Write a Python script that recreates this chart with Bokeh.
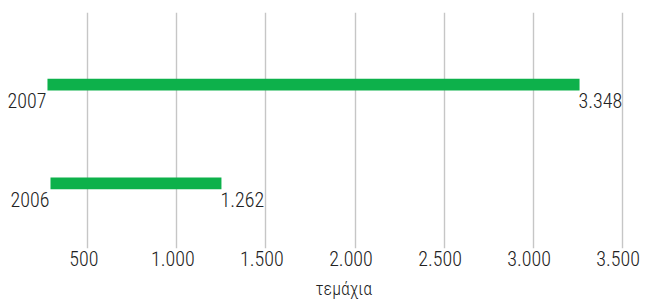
from bokeh.plotting import figure
from bokeh.models import (ColumnDataSource, Range1d, LinearAxis, FixedTicker, Title)
from bokeh.core.properties import value
from bokeh.embed import file_html
from bokeh.resources import INLINE

# ---- data ----
years = [2006, 2007]
units = [1262, 3348]               # printed values (τεμάχια)
unit_labels = ["1.262", "3.348"]
bar_left = [290, 273]              # where each bar begins on the scale
bar_right = [1250, 3261]           # where each bar ends on the scale
tick_values = [500, 1000, 1500, 2000, 2500, 3000, 3500]
tick_labels = ["500", "1.000", "1.500", "2.000", "2.500", "3.000", "3.500"]
axis_title = "τεμάχια"

FONT = ("'Roboto Condensed Light', 'Noto Sans Condensed Light', "
        "'Noto Sans ExtraCondensed', 'Noto Sans Condensed', 'Roboto Condensed', "
        "'Liberation Sans Narrow', 'DejaVu Sans Condensed', sans-serif")
TXT = "#222222"
GREEN = "#0db14b"

W, H = 646, 306
X0, X1 = 9.2, 3637.0

src = ColumnDataSource(dict(
    year=years, left=bar_left, right=bar_right,
    year_lab=[str(y) for y in years], val_lab=unit_labels,
))

p = figure(width=W, height=H, output_backend="svg", toolbar_location=None,
           x_range=Range1d(X0, X1), y_range=Range1d(2005.34, 2007.73),
           x_axis_location=None, y_axis_location=None,
           min_border_left=0, min_border_right=0, min_border_top=12,
           min_border_bottom=55)
p.outline_line_color = None
p.background_fill_color = "white"
p.border_fill_color = "white"

# grid
p.xgrid.ticker = FixedTicker(ticks=tick_values)
p.xgrid.grid_line_color = "#c6c6c6"
p.xgrid.grid_line_width = 1.4
p.ygrid.grid_line_color = None

# tick labels axis (labels sit slightly left of the gridlines)
p.extra_x_ranges = {"lab": Range1d(X0 + 22.5, X1 + 22.5)}
ax = LinearAxis(x_range_name="lab", ticker=FixedTicker(ticks=tick_values),
                major_label_overrides={t: l for t, l in zip(tick_values, tick_labels)})
ax.axis_line_color = None
ax.major_tick_line_color = None
ax.minor_tick_line_color = None
ax.major_tick_out = 0
ax.major_tick_in = 0
ax.major_label_standoff = 2
ax.major_label_text_font = FONT
ax.major_label_text_font_size = "20px"
ax.major_label_text_color = TXT
p.add_layout(ax, "below")

# axis title
p.add_layout(Title(text=axis_title, align="left", offset=315, standoff=15,
                   text_font=FONT, text_font_size="18px", text_font_style="normal",
                   text_color=TXT), "below")

# bars
p.hbar(y="year", left="left", right="right", height=0.12, source=src,
       fill_color=GREEN, line_color=None)

# year labels (below-left of bar start)
p.text(x="left", y="year", text="year_lab", source=src, text_align="right",
       text_baseline="middle", x_offset=-1, y_offset=16,
       text_font=value(FONT), text_font_size="20px", text_color=TXT)
# value labels (below-right of bar end)
p.text(x="right", y="year", text="val_lab", source=src, text_align="left",
       text_baseline="middle", x_offset=-1, y_offset=16,
       text_font=value(FONT), text_font_size="20px", text_color=TXT)

open("out.html", "w").write(file_html(p, INLINE))
